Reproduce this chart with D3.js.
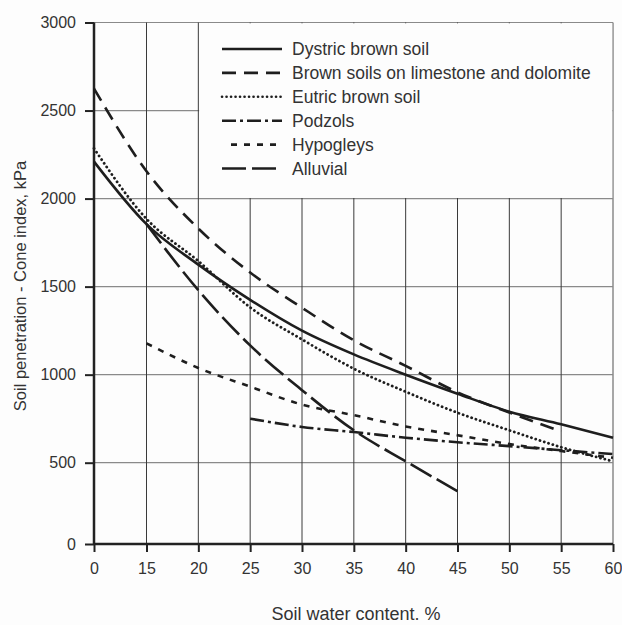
<!DOCTYPE html>
<html>
<head>
<meta charset="utf-8">
<script src="https://cdn.jsdelivr.net/npm/d3@7"></script>
<style>
  body { margin: 0; background: #fdfdfd; }
  text { font-family: "Liberation Sans", Arial, sans-serif; fill: #333; }
</style>
</head>
<body>
<div id="chart-area"></div>
<script>
// water content ticks (the axis jumps from 0 straight to 15)
var xTicks = [0, 15, 20, 25, 30, 35, 40, 45, 50, 55, 60];
var yTicks = [0, 500, 1000, 1500, 2000, 2500, 3000];

var seriesNames = [
  "Dystric brown soil",
  "Brown soils on limestone and dolomite",
  "Eutric brown soil",
  "Podzols",
  "Hypogleys",
  "Alluvial"
];

var dystricX = [0, 15, 20, 25, 30, 35, 40, 45, 50, 55, 60];
var dystricY = [2210, 1855, 1625, 1425, 1250, 1115, 1000, 892, 790, 718, 642];

var brownX = [0, 15, 20, 25, 30, 35, 40, 45, 50, 55];
var brownY = [2625, 2155, 1830, 1580, 1380, 1195, 1050, 900, 785, 678];

var eutricX = [0, 15, 20, 25, 30, 35, 40, 45, 50, 55, 60];
var eutricY = [2285, 1885, 1645, 1382, 1200, 1034, 903, 784, 684, 588, 508];

var podzolX = [25, 30, 35, 40, 45, 50, 55, 60];
var podzolY = [750, 703, 674, 642, 616, 594, 571, 549];

var hypoX = [15, 20, 25, 30, 35, 40, 45, 50, 55, 60];
var hypoY = [1178, 1038, 932, 830, 770, 706, 656, 606, 566, 528];

var alluvialX = [15, 20, 25, 30, 35, 40, 45];
var alluvialY = [1855, 1480, 1166, 912, 684, 508, 325];

var series = [
  { name: seriesNames[0], xs: dystricX, ys: dystricY, dash: null, cap: "butt" },
  { name: seriesNames[1], xs: brownX, ys: brownY, dash: "14,8", cap: "butt" },
  { name: seriesNames[2], xs: eutricX, ys: eutricY, dash: "0.1,4.4", cap: "round" },
  { name: seriesNames[3], xs: podzolX, ys: podzolY, dash: "14,4,3,4", cap: "butt" },
  { name: seriesNames[4], xs: hypoX, ys: hypoY, dash: "6,7", cap: "butt" },
  { name: seriesNames[5], xs: alluvialX, ys: alluvialY, dash: "24,6", cap: "butt" }
];

var svg = d3.select("#chart-area")
  .append("svg")
  .attr("width", 622)
  .attr("height", 625);

// piecewise scales follow the printed grid
var x = d3.scaleLinear()
  .domain([0, 15, 60])
  .range([94, 146.5, 613]);

var y = d3.scaleLinear()
  .domain([0, 500, 3000])
  .range([544, 462.7, 22.5]);

// grid
svg.append("g")
  .selectAll("line")
  .data(yTicks.slice(1))
  .enter()
  .append("line")
  .attr("x1", x(0))
  .attr("x2", x(60))
  .attr("y1", d => y(d))
  .attr("y2", d => y(d))
  .attr("stroke", "#8a8a8a")
  .attr("stroke-width", 1.2);

svg.append("g")
  .selectAll("line")
  .data(xTicks.slice(1))
  .enter()
  .append("line")
  .attr("x1", d => x(d))
  .attr("x2", d => x(d))
  .attr("y1", y(3000))
  .attr("y2", y(0))
  .attr("stroke", d => d === 60 ? "#8a8a8a" : "#3a3a3a")
  .attr("stroke-width", d => d === 60 ? 1.5 : 1);

// legend box covers the grid
svg.append("rect")
  .attr("x", x(20) + 0.8)
  .attr("y", y(3000) + 0.8)
  .attr("width", x(60) - x(20) - 1.6)
  .attr("height", y(2000) - y(3000) - 1.4)
  .attr("fill", "#fdfdfd");

// axes
var xAxis = d3.axisBottom(x).tickValues(xTicks).tickFormat(d3.format("d")).tickSize(8).tickPadding(11);
var yAxis = d3.axisLeft(y).tickValues(yTicks).tickFormat(d3.format("d")).tickSize(9).tickPadding(9);

var gx = svg.append("g")
  .attr("transform", "translate(0," + y(0) + ")")
  .call(xAxis);
var gy = svg.append("g")
  .attr("transform", "translate(" + x(0) + ",0)")
  .call(yAxis);

[gx, gy].forEach(g => {
  g.select(".domain").attr("stroke", "#222").attr("stroke-width", 2.5);
  g.selectAll(".tick line").attr("stroke", "#222").attr("stroke-width", 2);
  g.selectAll(".tick text")
    .style("font-family", "'Liberation Sans', Arial, sans-serif")
    .style("font-size", "16px")
    .attr("fill", "#333");
});
gx.select(".domain").attr("d", "M" + x(0) + ",0H" + x(60));
gy.select(".domain").attr("d", "M0," + y(0) + "V" + y(3000));

// curves
var line = d3.line()
  .curve(d3.curveMonotoneX)
  .x(d => x(d[0]))
  .y(d => y(d[1]));

svg.append("g")
  .selectAll("path")
  .data(series)
  .enter()
  .append("path")
  .attr("d", s => line(s.xs.map((v, i) => [v, s.ys[i]])))
  .attr("fill", "none")
  .attr("stroke", "#1e1e1e")
  .attr("stroke-width", s => s.cap === "round" ? 2.8 : 2.6)
  .attr("stroke-linecap", s => s.cap)
  .attr("stroke-dasharray", s => s.dash);

// legend
var legend = svg.append("g")
  .selectAll("g")
  .data(series)
  .enter()
  .append("g")
  .attr("transform", (d, i) => "translate(0," + (49 + i * 23.9) + ")");

legend.append("line")
  .attr("x1", (d, i) => i === 4 ? 231 : 222)
  .attr("x2", 282)
  .attr("stroke", "#1e1e1e")
  .attr("stroke-width", 2.6)
  .attr("stroke-linecap", s => s.cap)
  .attr("stroke-dasharray", s => s.dash);

legend.append("text")
  .attr("x", 292)
  .attr("dy", "0.35em")
  .style("font-size", "17.5px")
  .text(d => d.name);

// axis titles
svg.append("text")
  .attr("x", 356)
  .attr("y", 620)
  .attr("text-anchor", "middle")
  .style("font-size", "18px")
  .text("Soil water content. %");

svg.append("text")
  .attr("transform", "translate(26,286) rotate(-90)")
  .attr("text-anchor", "middle")
  .style("font-size", "16.5px")
  .text("Soil penetration - Cone index, kPa");
</script>
</body>
</html>
